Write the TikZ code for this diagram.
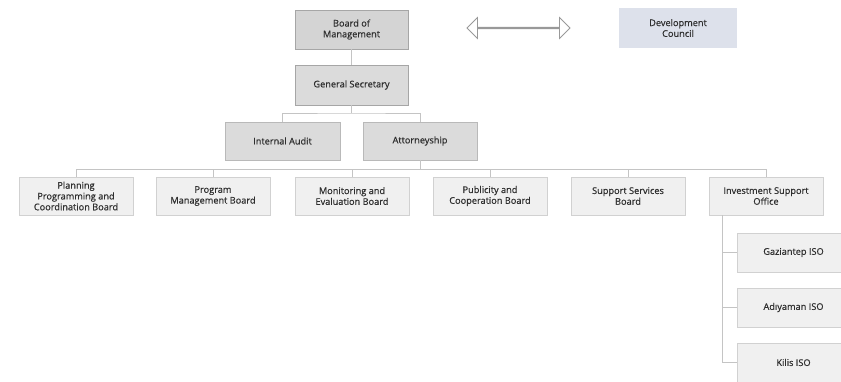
\documentclass[tikz,border=0pt]{standalone}
\usepackage{fontspec}
\setmainfont{Open Sans}
\newfontfamily\semib{Open Sans}[FakeBold=0.5]
\usetikzlibrary{shapes.arrows}
\definecolor{linegray}{HTML}{C4C4C4}
\definecolor{txt}{HTML}{2E2E2E}
\definecolor{dcfill}{HTML}{DDE1EB}
\tikzset{
  box/.style={draw=#1, rectangle, align=center, font=\semib\fontsize{9.2}{10.8}\selectfont, text=txt, inner sep=1pt, line width=0.8pt},
  topbox/.style={box=gray!70, fill=black!17, minimum width=113pt, minimum height=39pt},
  midbox/.style={box=gray!55, fill=black!14, minimum width=114pt, minimum height=38pt},
  lowbox/.style={box=black!18, fill=black!6, minimum width=114pt, minimum height=38pt},
  isobox/.style={box=black!18, fill=black!6, minimum width=113pt, minimum height=39pt},
  conn/.style={draw=linegray, line width=0.9pt},
}
\begin{document}
\begin{tikzpicture}[x=1pt,y=-1pt]
\useasboundingbox[fill=white] (0,0) rectangle (841,381);
\node[topbox] (bom) at (351.5,29.5) {Board of\\Management};
\node[topbox, fill=black!14, minimum height=40pt] (gs) at (351.5,85) {General Secretary};
\node[box=white, fill=dcfill, draw=none, minimum width=118pt, minimum height=40pt] (dc) at (678,28) {Development\\Council};
\node[double arrow, draw=gray!80, line width=0.8pt, fill=white, minimum width=21pt, double arrow head extend=6.5pt, double arrow head indent=0pt, minimum height=103pt, inner sep=0pt] (arr) at (518.5,28) {};
\node[midbox, minimum width=115pt] (ia) at (282.5,141) {Internal Audit};
\node[midbox] (att) at (420,141) {Attorneyship};
\node[lowbox] (b1) at (76,196) {Planning\\Programming and\\Coordination Board};
\node[lowbox] (b2) at (213,196) {Program\\Management Board};
\node[lowbox] (b3) at (352,196) {Monitoring and\\Evaluation Board};
\node[lowbox] (b4) at (490,196) {Publicity and\\Cooperation Board};
\node[lowbox] (b5) at (628,196) {Support Services\\Board};
\node[lowbox] (b6) at (766,196) {Investment Support\\Office};
\node[isobox] (g) at (793.5,252.5) {Gaziantep ISO};
\node[isobox] (a) at (793.5,307.5) {Adıyaman ISO};
\node[isobox] (k) at (793.5,362.5) {Kilis ISO};
\coordinate (s1) at (351.5,113);
\coordinate (s2) at (420,169);
\coordinate (trunk) at (722,215);
\draw[conn] (bom.south) -- (gs.north);
\draw[conn] (gs.south) -- (s1);
\draw[conn] (ia.north) |- (s1) -| (att.north);
\draw[conn] (att.south) -- (s2);
\foreach \b in {b1,b2,b3,b4,b5,b6}{
  \draw[conn] (s2) -| (\b.north);
}
\draw[conn] (trunk) |- (k.west);
\draw[conn] (trunk |- g.west) -- (g.west);
\draw[conn] (trunk |- a.west) -- (a.west);
\end{tikzpicture}
\end{document}
